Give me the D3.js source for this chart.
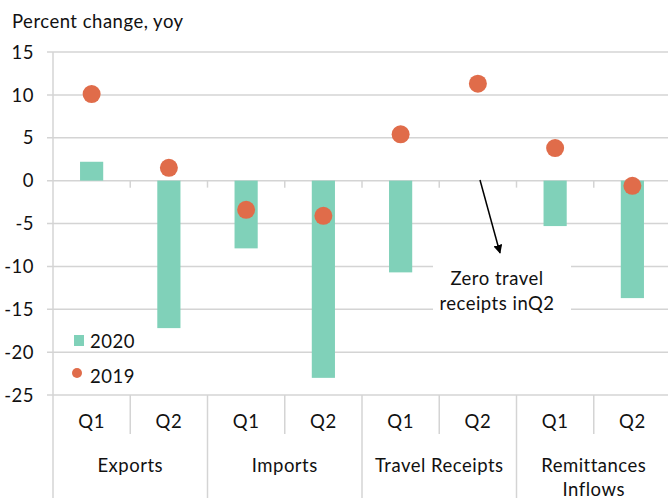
<!DOCTYPE html>
<html><head><meta charset="utf-8">
<script src="https://cdn.jsdelivr.net/npm/d3@7"></script>
<style>body{margin:0;background:#fff}svg{display:block}text{font-family:Lato,"Open Sans",sans-serif;fill:#111;letter-spacing:0.5px}</style>
</head><body><svg id="c" width="668" height="498"></svg>
<script>
const groups = ["Exports","Imports","Travel Receipts","Remittances Inflows"];
const quarters = ["Q1","Q2"];
const values2020 = [2.2,-17.2,-7.9,-23.0,-10.7,0,-5.3,-13.7];
const values2019 = [10.1,1.5,-3.4,-4.1,5.4,11.3,3.8,-0.6];
const yTicks = [15,10,5,0,-5,-10,-15,-20,-25];

const FS = 18.5;
const svg = d3.select("#c");
const L = 53, R = 671, T = 52, B = 395;
const keys = [];
groups.forEach((g,gi)=>quarters.forEach(q=>keys.push(gi+"-"+q)));
const x = d3.scaleBand().domain(keys).range([L,R]).padding(0);
const y = d3.scaleLinear().domain([-25,15]).range([B,T]);
const grid = "#d4d4d4";

// gridlines
svg.append("g").selectAll("line").data(yTicks).join("line")
  .attr("x1",L-6).attr("x2",668).attr("y1",d=>y(d)).attr("y2",d=>y(d))
  .attr("stroke",grid).attr("stroke-width",1.5);
// y axis line
svg.append("line").attr("x1",L).attr("x2",L).attr("y1",T).attr("y2",498).attr("stroke",grid).attr("stroke-width",1.5);
// y labels
svg.append("g").selectAll("text").data(yTicks).join("text")
  .attr("x",34).attr("y",d=>y(d)).attr("dy","0.36em").attr("text-anchor","end")
  .attr("font-size",FS).text(d=>d);
// title
svg.append("text").attr("x",12).attr("y",28).attr("font-size",FS).text("Percent change, yoy");

// small ticks below the zero line
svg.append("g").selectAll("line").data(keys.slice(1)).join("line")
  .attr("x1",d=>x(d)).attr("x2",d=>x(d)).attr("y1",y(0)).attr("y2",y(0)+7)
  .attr("stroke",grid).attr("stroke-width",1.5);

// bars
const bw = x.bandwidth()*0.3;
svg.append("g").selectAll("rect").data(values2020).join("rect")
  .attr("x",(d,i)=>x(keys[i])+x.bandwidth()/2-bw/2).attr("width",bw)
  .attr("y",d=>y(Math.max(0,d))).attr("height",d=>Math.abs(y(d)-y(0)))
  .attr("fill","#80d1b9");
// dots
svg.append("g").selectAll("circle").data(values2019).join("circle")
  .attr("cx",(d,i)=>x(keys[i])+x.bandwidth()/2).attr("cy",d=>y(d)).attr("r",9)
  .attr("fill","#e06c4a");

// x axis: quarter separators and group separators
keys.forEach((k,i)=>{
  if(i===0) return;
  const isGroup = i%2===0;
  svg.append("line").attr("x1",x(k)).attr("x2",x(k)).attr("y1",B).attr("y2",isGroup?498:434)
    .attr("stroke",grid).attr("stroke-width",1.5);
});
svg.append("g").selectAll("text").data(keys).join("text")
  .attr("x",d=>x(d)+x.bandwidth()/2).attr("y",421).attr("dy","0.36em").attr("text-anchor","middle")
  .attr("font-size",FS).text(d=>d.split("-")[1]);
const gw = x.bandwidth()*2;
groups.forEach((g,gi)=>{
  const cx = x(gi+"-Q1")+gw/2;
  const words = g==="Remittances Inflows" ? ["Remittances","Inflows"] : [g];
  words.forEach((w,wi)=>svg.append("text").attr("x",cx).attr("y",465+wi*24).attr("dy","0.36em")
    .attr("text-anchor","middle").attr("font-size",FS).text(w));
});

// legend
svg.append("rect").attr("x",74).attr("y",335).attr("width",10).attr("height",11).attr("fill","#80d1b9");
svg.append("text").attr("x",90).attr("y",341).attr("dy","0.36em").attr("font-size",FS).text("2020");
svg.append("circle").attr("cx",77).attr("cy",373).attr("r",5).attr("fill","#e06c4a");
svg.append("text").attr("x",90).attr("y",376).attr("dy","0.36em").attr("font-size",FS).text("2019");

// annotation
const defs = svg.append("defs");
defs.append("marker").attr("id","ah").attr("viewBox","0 0 10 10").attr("refX",9).attr("refY",5)
  .attr("markerWidth",6).attr("markerHeight",6).attr("orient","auto")
  .append("path").attr("d","M0,0L10,5L0,10z").attr("fill","#000");
svg.append("rect").attr("x",433).attr("y",262).attr("width",138).attr("height",56).attr("fill","#fff");
svg.append("line").attr("x1",480).attr("y1",180).attr("x2",500).attr("y2",253)
  .attr("stroke","#000").attr("stroke-width",1.5).attr("marker-end","url(#ah)");
svg.append("text").attr("x",497).attr("y",278).attr("dy","0.36em").attr("text-anchor","middle").attr("font-size",FS).text("Zero travel");
svg.append("text").attr("x",497).attr("y",303).attr("dy","0.36em").attr("text-anchor","middle").attr("font-size",FS).text("receipts inQ2");
</script></body></html>
